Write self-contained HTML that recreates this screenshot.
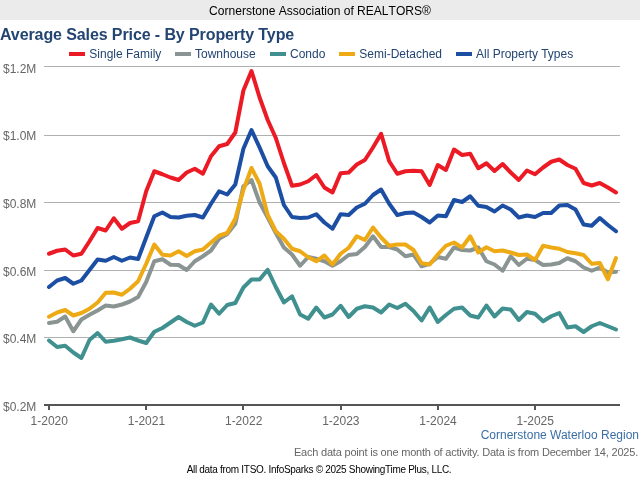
<!DOCTYPE html>
<html><head><meta charset="utf-8"><title>Average Sales Price - By Property Type</title>
<style>
html,body{margin:0;padding:0;background:#fff;}
body{width:640px;height:480px;overflow:hidden;}
svg{display:block;font-family:"Liberation Sans",sans-serif;}
.lg{font-size:12px;fill:#234572;}
.yl{font-size:12px;fill:#666;}
.xl{font-size:12px;fill:#666;text-anchor:middle;}
</style></head><body>
<svg width="640" height="480" viewBox="0 0 640 480">
<rect x="0" y="0" width="640" height="480" fill="#fff"/>
<rect x="0" y="0" width="640" height="20" fill="#ebebeb"/>
<text x="320" y="15" text-anchor="middle" font-size="12.05px" fill="#000" style="font-kerning:none">Cornerstone Association of REALTORS®</text>
<text x="0" y="39.75" font-size="16px" font-weight="bold" fill="#234572" letter-spacing="-0.1px">Average Sales Price - By Property Type</text>
<rect x="44" y="66" width="576" height="1" fill="#b0b0b0"/>
<rect x="44" y="135" width="576" height="1" fill="#b0b0b0"/>
<rect x="44" y="202" width="576" height="1" fill="#b0b0b0"/>
<rect x="44" y="270" width="576" height="1" fill="#b0b0b0"/>
<rect x="44" y="337" width="576" height="1" fill="#b0b0b0"/>
<rect x="44" y="404" width="576" height="2" fill="#555"/>
<rect x="48" y="405" width="2" height="5" fill="#555"/>
<rect x="145" y="405" width="2" height="5" fill="#555"/>
<rect x="242" y="405" width="2" height="5" fill="#555"/>
<rect x="340" y="405" width="2" height="5" fill="#555"/>
<rect x="437" y="405" width="2" height="5" fill="#555"/>
<rect x="534" y="405" width="2" height="5" fill="#555"/>
<path d="M49.00 253.75 L57.10 250.75 L65.20 249.50 L73.30 255.50 L81.40 253.75 L89.50 241.25 L97.60 228.00 L105.70 230.50 L113.80 218.25 L121.90 228.75 L130.00 223.00 L138.10 221.25 L146.20 191.25 L154.30 171.25 L162.40 174.25 L170.50 177.50 L178.60 180.00 L186.70 172.50 L194.80 168.75 L202.90 173.75 L211.00 156.25 L219.10 146.25 L227.20 144.00 L235.30 132.50 L243.40 90.50 L251.50 71.00 L259.60 97.50 L267.70 120.00 L275.80 138.00 L283.90 163.00 L292.00 185.75 L300.10 184.50 L308.20 181.25 L316.30 175.00 L324.40 187.50 L332.50 192.50 L340.60 173.25 L348.70 172.50 L356.80 164.50 L364.90 160.00 L373.00 147.50 L381.10 133.75 L389.20 161.25 L397.30 173.75 L405.40 171.25 L413.50 170.75 L421.60 171.25 L429.70 185.00 L437.80 165.00 L445.90 170.00 L454.00 149.50 L462.10 155.00 L470.20 153.75 L478.30 168.25 L486.40 163.25 L494.50 171.00 L502.60 164.00 L510.70 172.50 L518.80 180.00 L526.90 170.50 L535.00 174.25 L543.10 167.50 L551.20 161.75 L559.30 159.50 L567.40 165.00 L575.50 168.75 L583.60 183.00 L591.70 185.50 L599.80 183.00 L607.90 187.50 L616.00 192.50" fill="none" stroke="#ec1a24" stroke-width="4" stroke-linejoin="round" stroke-linecap="round"/>
<path d="M49.00 323.00 L57.10 321.75 L65.20 316.50 L73.30 331.25 L81.40 319.50 L89.50 314.75 L97.60 310.50 L105.70 305.50 L113.80 306.50 L121.90 304.50 L130.00 301.50 L138.10 297.00 L146.20 282.00 L154.30 261.25 L162.40 259.25 L170.50 264.75 L178.60 265.00 L186.70 270.00 L194.80 261.25 L202.90 256.25 L211.00 250.50 L219.10 238.75 L227.20 234.00 L235.30 223.75 L243.40 186.25 L251.50 180.00 L259.60 202.50 L267.70 217.50 L275.80 233.00 L283.90 247.50 L292.00 254.50 L300.10 265.75 L308.20 257.00 L316.30 258.75 L324.40 261.25 L332.50 265.75 L340.60 261.25 L348.70 255.00 L356.80 254.00 L364.90 247.00 L373.00 236.25 L381.10 247.00 L389.20 247.00 L397.30 249.50 L405.40 256.25 L413.50 254.50 L421.60 266.25 L429.70 263.75 L437.80 257.00 L445.90 258.75 L454.00 247.50 L462.10 250.00 L470.20 250.50 L478.30 247.50 L486.40 261.25 L494.50 264.50 L502.60 270.75 L510.70 256.25 L518.80 265.00 L526.90 258.75 L535.00 260.00 L543.10 265.00 L551.20 264.50 L559.30 263.00 L567.40 258.25 L575.50 261.25 L583.60 267.50 L591.70 270.75 L599.80 267.50 L607.90 272.50 L616.00 271.75" fill="none" stroke="#8a9492" stroke-width="4" stroke-linejoin="round" stroke-linecap="round"/>
<path d="M49.00 340.50 L57.10 347.00 L65.20 345.75 L73.30 352.50 L81.40 358.00 L89.50 340.00 L97.60 333.00 L105.70 341.75 L113.80 340.75 L121.90 339.25 L130.00 337.50 L138.10 340.50 L146.20 343.00 L154.30 331.75 L162.40 328.00 L170.50 322.50 L178.60 317.00 L186.70 322.00 L194.80 325.75 L202.90 322.50 L211.00 304.50 L219.10 313.75 L227.20 305.00 L235.30 303.00 L243.40 287.50 L251.50 279.50 L259.60 279.50 L267.70 269.75 L275.80 287.00 L283.90 302.50 L292.00 296.25 L300.10 314.50 L308.20 318.75 L316.30 307.50 L324.40 317.50 L332.50 314.50 L340.60 305.75 L348.70 317.00 L356.80 308.75 L364.90 306.25 L373.00 307.50 L381.10 312.50 L389.20 304.50 L397.30 308.00 L405.40 303.75 L413.50 311.00 L421.60 320.50 L429.70 307.50 L437.80 322.00 L445.90 315.00 L454.00 308.75 L462.10 307.50 L470.20 315.50 L478.30 317.50 L486.40 305.50 L494.50 316.50 L502.60 308.50 L510.70 309.50 L518.80 320.00 L526.90 312.00 L535.00 313.75 L543.10 321.25 L551.20 316.25 L559.30 313.00 L567.40 327.50 L575.50 326.25 L583.60 332.00 L591.70 326.25 L599.80 323.00 L607.90 326.25 L616.00 329.50" fill="none" stroke="#409090" stroke-width="4" stroke-linejoin="round" stroke-linecap="round"/>
<path d="M49.00 316.75 L57.10 312.50 L65.20 310.00 L73.30 315.50 L81.40 313.00 L89.50 308.75 L97.60 302.50 L105.70 292.75 L113.80 292.50 L121.90 294.75 L130.00 288.75 L138.10 281.25 L146.20 263.75 L154.30 244.50 L162.40 254.75 L170.50 255.50 L178.60 251.25 L186.70 256.00 L194.80 251.25 L202.90 249.50 L211.00 242.50 L219.10 235.75 L227.20 233.00 L235.30 218.75 L243.40 190.00 L251.50 168.00 L259.60 183.75 L267.70 215.00 L275.80 231.25 L283.90 238.75 L292.00 248.75 L300.10 251.25 L308.20 257.25 L316.30 261.25 L324.40 255.50 L332.50 264.50 L340.60 253.75 L348.70 247.75 L356.80 236.25 L364.90 240.00 L373.00 227.50 L381.10 237.50 L389.20 245.75 L397.30 244.50 L405.40 244.50 L413.50 250.00 L421.60 263.25 L429.70 264.50 L437.80 254.50 L445.90 245.75 L454.00 242.50 L462.10 247.50 L470.20 236.25 L478.30 252.50 L486.40 247.25 L494.50 251.25 L502.60 250.50 L510.70 252.50 L518.80 255.00 L526.90 254.50 L535.00 260.00 L543.10 245.75 L551.20 247.50 L559.30 248.75 L567.40 252.00 L575.50 253.25 L583.60 255.00 L591.70 263.75 L599.80 263.00 L607.90 279.25 L616.00 258.00" fill="none" stroke="#eeaa14" stroke-width="4" stroke-linejoin="round" stroke-linecap="round"/>
<path d="M49.00 287.00 L57.10 280.50 L65.20 278.00 L73.30 283.75 L81.40 280.50 L89.50 270.00 L97.60 259.50 L105.70 260.75 L113.80 257.00 L121.90 260.75 L130.00 257.50 L138.10 259.00 L146.20 237.50 L154.30 216.25 L162.40 212.50 L170.50 217.00 L178.60 217.50 L186.70 215.75 L194.80 215.00 L202.90 217.50 L211.00 203.75 L219.10 191.25 L227.20 194.50 L235.30 184.50 L243.40 148.75 L251.50 130.00 L259.60 147.50 L267.70 166.25 L275.80 177.50 L283.90 205.00 L292.00 217.00 L300.10 218.00 L308.20 217.50 L316.30 214.25 L324.40 222.50 L332.50 228.75 L340.60 214.25 L348.70 215.00 L356.80 207.50 L364.90 203.75 L373.00 195.00 L381.10 189.50 L389.20 203.75 L397.30 215.00 L405.40 213.00 L413.50 212.50 L421.60 217.00 L429.70 222.50 L437.80 215.50 L445.90 216.25 L454.00 200.00 L462.10 202.00 L470.20 196.25 L478.30 205.75 L486.40 207.00 L494.50 211.50 L502.60 205.50 L510.70 209.50 L518.80 217.50 L526.90 215.50 L535.00 217.00 L543.10 213.00 L551.20 213.00 L559.30 205.50 L567.40 205.00 L575.50 209.50 L583.60 224.50 L591.70 225.75 L599.80 218.00 L607.90 225.00 L616.00 231.25" fill="none" stroke="#1c4fa3" stroke-width="4" stroke-linejoin="round" stroke-linecap="round"/>
<rect x="69" y="52" width="16" height="4" fill="#ec1a24"/><text class="lg" x="89.3" y="57.9">Single Family</text>
<rect x="175" y="52" width="16" height="4" fill="#8a9492"/><text class="lg" x="195" y="57.9">Townhouse</text>
<rect x="270" y="52" width="16" height="4" fill="#409090"/><text class="lg" x="290" y="57.9">Condo</text>
<rect x="339" y="52" width="16" height="4" fill="#eeaa14"/><text class="lg" x="359.3" y="57.9">Semi-Detached</text>
<rect x="456" y="52" width="16" height="4" fill="#1c4fa3"/><text class="lg" x="476" y="57.9">All Property Types</text>
<text class="yl" x="3" y="72.80">$1.2M</text>
<text class="yl" x="3" y="140.37">$1.0M</text>
<text class="yl" x="3" y="207.94">$0.8M</text>
<text class="yl" x="3" y="275.51">$0.6M</text>
<text class="yl" x="3" y="343.08">$0.4M</text>
<text class="yl" x="3" y="410.65">$0.2M</text>
<text class="xl" x="49.25" y="424.6">1-2020</text>
<text class="xl" x="146.45" y="424.6">1-2021</text>
<text class="xl" x="243.65" y="424.6">1-2022</text>
<text class="xl" x="340.85" y="424.6">1-2023</text>
<text class="xl" x="438.05" y="424.6">1-2024</text>
<text class="xl" x="535.25" y="424.6">1-2025</text>
<text x="639" y="439.3" text-anchor="end" font-size="12px" fill="#3a6ea5">Cornerstone Waterloo Region</text>
<text x="638" y="455.8" text-anchor="end" font-size="11px" fill="#666" letter-spacing="-0.2px">Each data point is one month of activity. Data is from December 14, 2025.</text>
<text x="319" y="473" text-anchor="middle" font-size="10px" fill="#000" letter-spacing="-0.3px">All data from ITSO. InfoSparks © 2025 ShowingTime Plus, LLC.</text>
</svg>
</body></html>
